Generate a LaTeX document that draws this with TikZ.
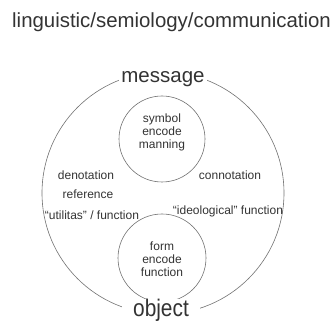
\documentclass[tikz,border=0pt]{standalone}
\usepackage{fontspec}
\setmainfont{Liberation Sans}
\usetikzlibrary{positioning,calc}
\definecolor{inkgray}{HTML}{333333}
\definecolor{linegray}{HTML}{707070}
\tikzset{
	ring/.style={draw=linegray, circle, line width=0.6pt, inner sep=0pt},
	smalltext/.style={text=inkgray, font=\fontsize{12}{13}\selectfont, align=center, inner sep=1pt},
	bigtext/.style={text=inkgray, font=\fontsize{20.5}{23}\selectfont, fill=white, inner sep=2pt, anchor=base}
}
\begin{document}
\begin{tikzpicture}[x=1pt, y=-1pt]
	\useasboundingbox (0,0) rectangle (333,323);
	
	%% -- title
	\node[text=inkgray, font=\fontsize{20.4}{22}\selectfont, anchor=west, inner sep=0pt] (title)
	at (12,22) {linguistic/semiology/communication};
	
	%% -- outer circle and inner circles
	\node[ring, minimum size=242pt] (outer) at (163,193) {};
	\node[ring, minimum size=86pt] (upper) at (162,139) {};
	\node[ring, minimum size=88pt] (lower) at (162,258) {};
	
	%% -- texts inside the inner circles
	\node[smalltext] (uppertxt) at (162,132) {symbol\\encode\\manning};
	\node[smalltext] (lowertxt) at (162,259) {form\\encode\\function};
	
	%% -- poles, over the outer circle
	\node[bigtext] (message) at (163,83) {message};
	\node[bigtext, font=\fontsize{24}{26}\selectfont, xscale=0.87,
	inner xsep=13pt, inner ysep=1pt] (object) at (161,317) {object};
	
	%% -- left side
	\node[smalltext] (denot) at (86,175) {denotation};
	\node[smalltext] (refer) at (88,194) {reference};
	\node[smalltext] (util) at (92,215) {``utilitas'' / function};
	
	%% -- right side
	\node[smalltext] (connot) at (230,175) {connotation};
	\node[smalltext] (ideol) at (228,211) {``ideological'' function};
\end{tikzpicture}
\end{document}
